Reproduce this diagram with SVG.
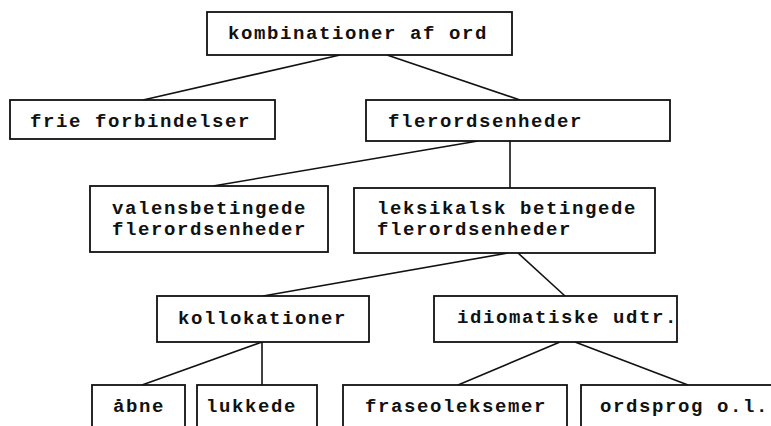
<svg xmlns="http://www.w3.org/2000/svg" width="771" height="426" viewBox="0 0 771 426">
<style>
.box{fill:#fff;stroke:#111;stroke-width:1.8}
.t{font-family:"Liberation Mono","DejaVu Sans Mono",monospace;font-weight:bold;font-size:19px;letter-spacing:1.6px;fill:#111}
.c line{stroke:#111;stroke-width:1.6}
</style>
<rect width="771" height="426" fill="#fff"/>
<g class="c" id="connectors">
<line x1="340" y1="55" x2="143" y2="100"/>
<line x1="387" y1="55" x2="520" y2="100"/>
<line x1="478" y1="141" x2="213" y2="186"/>
<line x1="510" y1="141" x2="510" y2="188"/>
<line x1="508" y1="253" x2="263" y2="296"/>
<line x1="518" y1="253" x2="565" y2="296"/>
<line x1="262" y1="342" x2="142" y2="385"/>
<line x1="262" y1="342" x2="262" y2="385"/>
<line x1="560" y1="342" x2="458" y2="385"/>
<line x1="575" y1="342" x2="688" y2="385"/>
</g>
<g id="n-kombinationer"><rect class="box" x="207" y="12" width="305" height="43"/><text class="t" x="228" y="39">kombinationer af ord</text></g>
<g id="n-frie"><rect class="box" x="10" y="100" width="265" height="39"/><text class="t" x="30" y="127">frie forbindelser</text></g>
<g id="n-flerord"><rect class="box" x="366" y="100" width="304" height="41"/><text class="t" x="388" y="127">flerordsenheder</text></g>
<g id="n-valens"><rect class="box" x="90" y="186" width="238" height="66"/><text class="t" x="112" y="214">valensbetingede</text><text class="t" x="112" y="235">flerordsenheder</text></g>
<g id="n-leksikalsk"><rect class="box" x="354" y="188" width="301" height="65"/><text class="t" x="377" y="214">leksikalsk betingede</text><text class="t" x="377" y="235">flerordsenheder</text></g>
<g id="n-kollokationer"><rect class="box" x="157" y="296" width="212" height="46"/><text class="t" x="178" y="324">kollokationer</text></g>
<g id="n-idiomatiske"><rect class="box" x="434" y="296" width="243" height="46"/><text class="t" x="457" y="323">idiomatiske udtr.</text></g>
<g id="n-aabne"><rect class="box" x="92" y="385" width="93" height="50"/><text class="t" x="113" y="412">åbne</text></g>
<g id="n-lukkede"><rect class="box" x="197" y="385" width="120" height="50"/><text class="t" x="206" y="412">lukkede</text></g>
<g id="n-fraseo"><rect class="box" x="343" y="385" width="224" height="50"/><text class="t" x="365" y="412">fraseoleksemer</text></g>
<g id="n-ordsprog"><rect class="box" x="581" y="385" width="200" height="50"/><text class="t" x="600" y="412">ordsprog o.l.</text></g>
</svg>
